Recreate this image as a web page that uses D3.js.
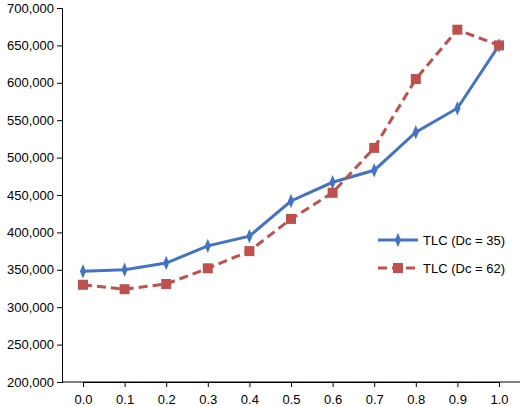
<!DOCTYPE html>
<html><head><meta charset="utf-8">
<script src="https://cdn.jsdelivr.net/npm/d3@7"></script>
<style>body{margin:0;background:#fff}text{font-family:Arial,"Liberation Sans",sans-serif;font-size:13px;fill:#000}</style>
</head><body><svg id="c" width="520" height="406"></svg>
<script>
const categories=["0.0","0.1","0.2","0.3","0.4","0.5","0.6","0.7","0.8","0.9","1.0"];
const seriesA=[348000,350000,359000,382000,395000,442000,467000,483000,534000,566000,650000];
const seriesB=[330000,324000,331000,352000,375000,418000,453000,513000,605000,671000,650000];
const yTicks=[200000,250000,300000,350000,400000,450000,500000,550000,600000,650000,700000];
const names=["TLC (Dc = 35)","TLC (Dc = 62)"];
const svg=d3.select("#c");
const x=d3.scalePoint().domain(categories).range([83,499]);
const y=d3.scaleLinear().domain([200000,700000]).range([382,8]);
const fmt=d3.format(",");
const ya=svg.append("g").attr("transform","translate(62,0)").call(d3.axisLeft(y).tickValues(yTicks).tickFormat(fmt).tickSize(5));
const xa=svg.append("g").attr("transform","translate(0,382)").call(d3.axisBottom(x).tickSize(5).tickSizeOuter(0));
svg.append("line").attr("x1",62).attr("x2",520).attr("y1",382).attr("y2",382).attr("stroke","#000");
[ya,xa].forEach(a=>{a.selectAll("text").style("font-size","13px");a.selectAll("path,line").attr("stroke","#000");});
xa.selectAll("text").attr("dy","1.1em");
const line=d3.line().x((d,i)=>x(categories[i])).y(d=>y(d));
const blue="#4472c4",red="#c0504d";
svg.append("path").datum(seriesA).attr("d",line).attr("fill","none").attr("stroke",blue).attr("stroke-width",3);
svg.append("path").datum(seriesB).attr("d",line).attr("fill","none").attr("stroke",red).attr("stroke-width",3).attr("stroke-dasharray","9,5");
const diamond=d3.symbol().type(d3.symbolDiamond).size(50);
svg.selectAll(".a").data(seriesA).join("path").attr("d",diamond).attr("transform",(d,i)=>`translate(${x(categories[i])},${y(d)}) scale(0.8,1.1)`).attr("fill",blue);
svg.selectAll(".b").data(seriesB).join("rect").attr("x",(d,i)=>x(categories[i])-5).attr("y",d=>y(d)-5).attr("width",10).attr("height",10).attr("fill",red);
const lg=svg.append("g");
lg.append("line").attr("x1",378).attr("x2",418).attr("y1",240).attr("y2",240).attr("stroke",blue).attr("stroke-width",3);
lg.append("path").attr("d",diamond).attr("transform","translate(398,240) scale(0.8,1.1)").attr("fill",blue);
lg.append("text").attr("x",423).attr("y",245).text(names[0]);
lg.append("line").attr("x1",378).attr("x2",418).attr("y1",268).attr("y2",268).attr("stroke",red).attr("stroke-width",3).attr("stroke-dasharray","9,5");
lg.append("rect").attr("x",393).attr("y",263).attr("width",10).attr("height",10).attr("fill",red);
lg.append("text").attr("x",423).attr("y",273).text(names[1]);
</script></body></html>
